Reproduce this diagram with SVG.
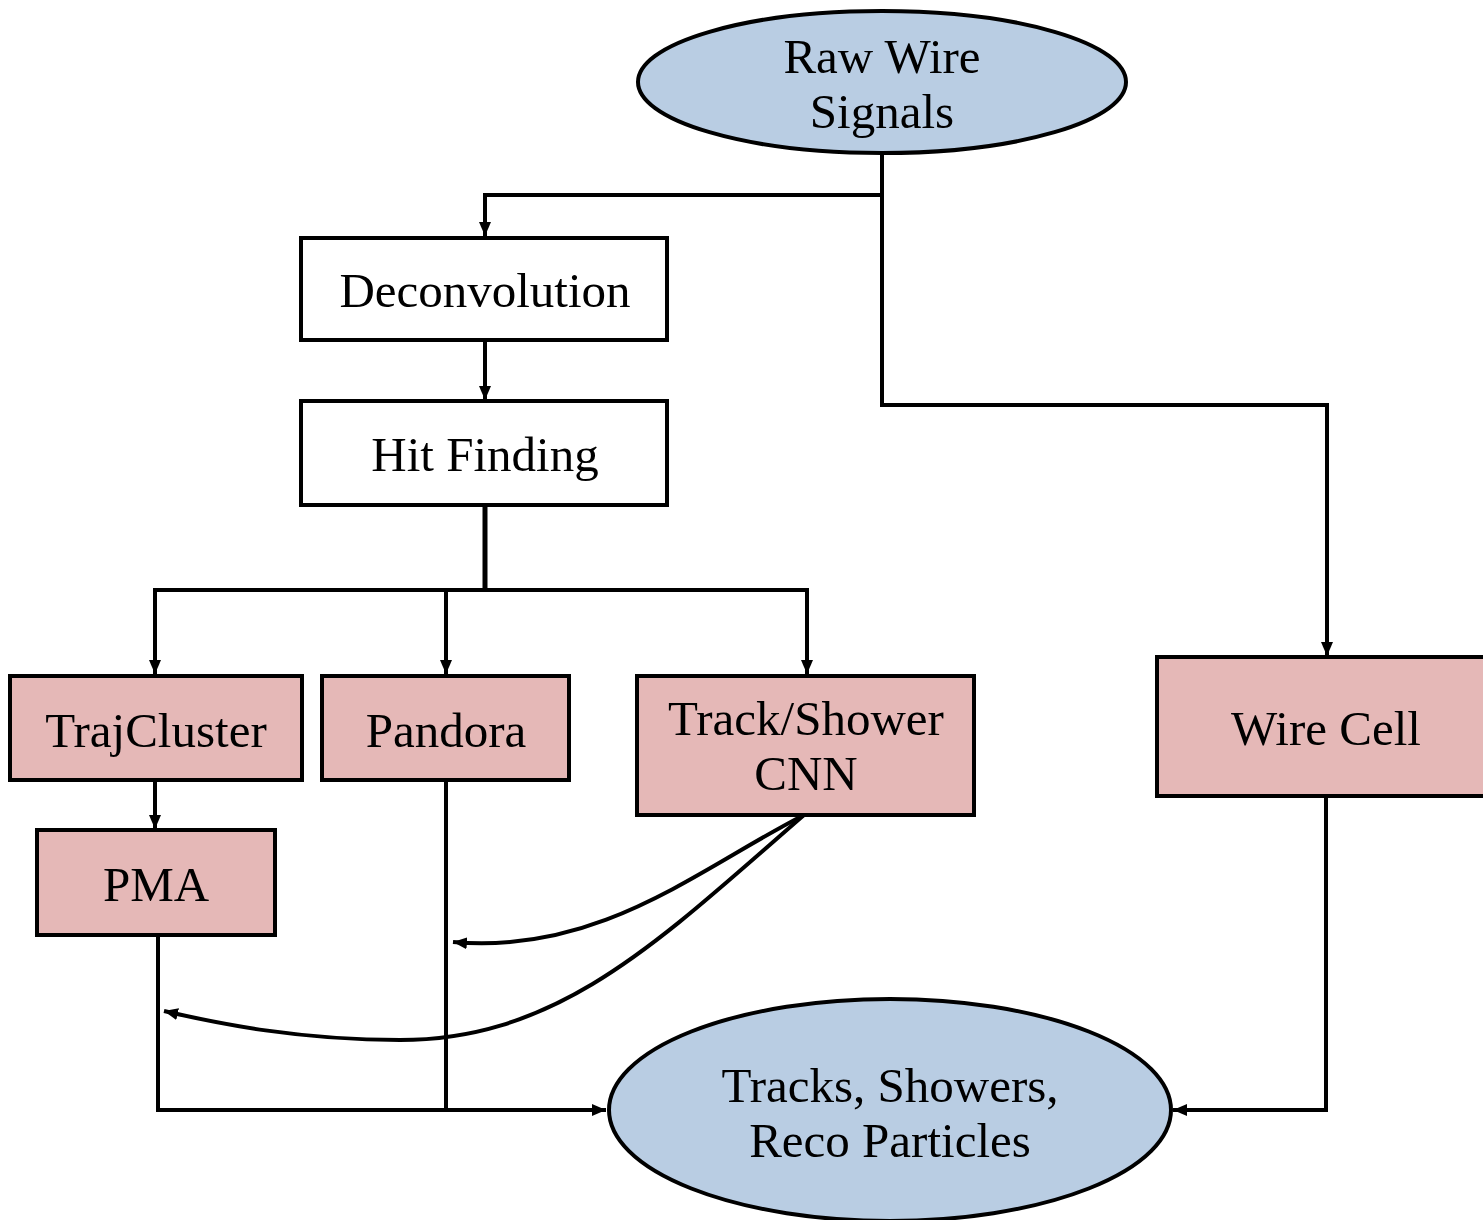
<svg xmlns="http://www.w3.org/2000/svg" width="1483" height="1220" viewBox="0 0 1483 1220">
  <style>
    .box { fill: #E5B8B7; stroke: #000; stroke-width: 4; }
    .plain { fill: #FFFFFF; stroke: #000; stroke-width: 4; }
    .oval { fill: #B9CDE3; stroke: #000; stroke-width: 4; }
    .lbl { font-family: "Liberation Serif", "Times New Roman", serif; font-size: 49px; fill: #000; text-anchor: middle; }
    .wire { fill: none; stroke: #000; stroke-width: 4; stroke-linejoin: miter; }
  </style>
  <defs>
    <marker id="arrow" viewBox="0 0 14 12" refX="14" refY="6" markerWidth="14" markerHeight="12" markerUnits="userSpaceOnUse" orient="auto">
      <path d="M0,0 L14,6 L0,12 Z" fill="#000"/>
    </marker>
  </defs>

  <!-- connectors -->
  <g id="connectors">
    <!-- raw signals to deconvolution -->
    <path class="wire" d="M882,153 V195 H485 V236" marker-end="url(#arrow)"/>
    <!-- raw signals to wire cell -->
    <path class="wire" d="M882,195 V405 H1327 V656" marker-end="url(#arrow)"/>
    <!-- deconvolution to hit finding -->
    <path class="wire" d="M485,340 V400" marker-end="url(#arrow)"/>
    <!-- hit finding fan-out -->
    <path class="wire" d="M485,505 V590" style="stroke-width:5"/>
    <path class="wire" d="M155,674 V590 H807 V674" marker-end="url(#arrow)"/>
    <path class="wire" d="M155,590 V674" marker-end="url(#arrow)"/>
    <path class="wire" d="M446,590 V674" marker-end="url(#arrow)"/>
    <!-- trajcluster to pma -->
    <path class="wire" d="M155,780 V829" marker-end="url(#arrow)"/>
    <!-- pma and pandora to output -->
    <path class="wire" d="M158,935 V1110 H606" marker-end="url(#arrow)"/>
    <path class="wire" d="M446,780 V1110"/>
    <!-- wire cell to output -->
    <path class="wire" d="M1326,796 V1110 H1173" marker-end="url(#arrow)"/>
    <!-- cnn feeds -->
    <path class="wire" d="M804,815 C700,868 600,955 453,942" marker-end="url(#arrow)"/>
    <path class="wire" d="M804,815 C660,940 560,1040 400,1040 C300,1040 220,1024 164,1011" marker-end="url(#arrow)"/>
  </g>

  <g id="raw-wire-signals">
    <ellipse class="oval" cx="882" cy="82" rx="244" ry="71"/>
    <text class="lbl" x="882" y="73">Raw Wire</text>
    <text class="lbl" x="882" y="128">Signals</text>
  </g>

  <g id="deconvolution">
    <rect class="plain" x="301" y="238" width="366" height="102"/>
    <text class="lbl" x="485" y="307">Deconvolution</text>
  </g>

  <g id="hit-finding">
    <rect class="plain" x="301" y="401" width="366" height="104"/>
    <text class="lbl" x="485" y="471">Hit Finding</text>
  </g>

  <g id="trajcluster">
    <rect class="box" x="10" y="676" width="292" height="104"/>
    <text class="lbl" x="156" y="747">TrajCluster</text>
  </g>

  <g id="pandora">
    <rect class="box" x="322" y="676" width="247" height="104"/>
    <text class="lbl" x="446" y="747">Pandora</text>
  </g>

  <g id="track-shower-cnn">
    <rect class="box" x="637" y="676" width="337" height="139"/>
    <text class="lbl" x="806" y="735">Track/Shower</text>
    <text class="lbl" x="806" y="790">CNN</text>
  </g>

  <g id="wire-cell">
    <rect class="box" x="1157" y="657" width="333" height="139"/>
    <text class="lbl" x="1326" y="745">Wire Cell</text>
  </g>

  <g id="pma">
    <rect class="box" x="37" y="830" width="238" height="105"/>
    <text class="lbl" x="156" y="901">PMA</text>
  </g>

  <g id="reco-output">
    <ellipse class="oval" cx="890" cy="1110" rx="281" ry="111"/>
    <text class="lbl" x="890" y="1102">Tracks, Showers,</text>
    <text class="lbl" x="890" y="1157">Reco Particles</text>
  </g>
</svg>
